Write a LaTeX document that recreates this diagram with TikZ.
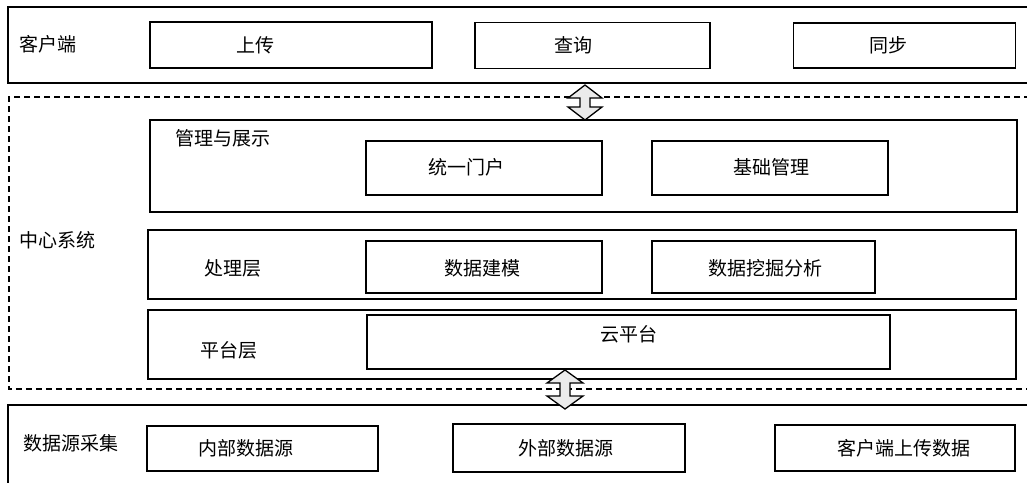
\documentclass[tikz,border=0pt]{standalone}
\usepackage{fontspec}
\newfontfamily\cjk{Noto Sans CJK SC}
\begin{document}
\begin{tikzpicture}[x=1pt,y=-1pt,
  box/.style={draw=black,line width=1.4pt,minimum width=#1,inner sep=0pt},
  lbl/.style={font=\cjk\fontsize{19pt}{22pt}\selectfont,inner sep=0pt,anchor=center},
  frame/.style={draw=black,line width=1.4pt},
  dframe/.style={draw=black,line width=1.4pt,dash pattern=on 6pt off 4pt},
  barrow/.style={draw=black,line width=1.3pt,fill=black!8,line join=miter}]
\useasboundingbox (0,0) rectangle (1027,482);
\begin{scope}
\clip (0,0) rectangle (1027,482);
% outer layers
\draw[frame] (1040,7) -- (8,7) -- (8,83) -- (1040,83);
\draw[dframe] (1040,97) -- (9,97) -- (9,389) -- (1040,389);
\draw[frame] (1040,405) -- (8,405) -- (8,490);
\end{scope}
% client row
\node[box=282pt,minimum height=46pt] (up) at (291,45) {};
\node[box=235pt,minimum height=46pt] (qry) at (592.5,45.5) {};
\node[box=222pt,minimum height=45pt] (sync) at (904.5,45.5) {};
\node[lbl] (tclient) at (48,44) {客户端};
\node[lbl] at (255,45) {上传};
\node[lbl] at (573,45) {查询};
\node[lbl] at (888,45) {同步};
% center system
\node[lbl] (tcenter) at (57,240) {中心系统};
\node[box=867pt,minimum height=92pt] (mgmt) at (583.5,166) {};
\node[lbl] at (223,138) {管理与展示};
\node[box=236pt,minimum height=54pt] (portal) at (484,168) {};
\node[box=236pt,minimum height=54pt] (base) at (770,168) {};
\node[lbl] at (466,167) {统一门户};
\node[lbl] at (771,167) {基础管理};
\node[box=868pt,minimum height=69pt] (proc) at (582,264.5) {};
\node[lbl] at (233,268) {处理层};
\node[box=236pt,minimum height=52pt] (model) at (484,267) {};
\node[box=223pt,minimum height=52pt] (mine) at (763.5,267) {};
\node[lbl] at (482,268) {数据建模};
\node[lbl] at (765,268) {数据挖掘分析};
\node[box=868pt,minimum height=69pt] (plat) at (582,344.5) {};
\node[lbl] at (229,350) {平台层};
\node[box=523pt,minimum height=54pt] (cloud) at (628.5,342) {};
\node[lbl] at (629,334) {云平台};
% data sources
\node[lbl] (tsrc) at (71,443) {数据源采集};
\node[box=231pt,minimum height=45pt] (inner) at (262.5,448.5) {};
\node[box=232pt,minimum height=48pt] (outer) at (569,448) {};
\node[box=240pt,minimum height=46pt] (cup) at (895,448) {};
\node[lbl] at (246,448) {内部数据源};
\node[lbl] at (566,448) {外部数据源};
\node[lbl] at (904,448) {客户端上传数据};
% block arrows
\draw[barrow] (585,85) -- (602,98) -- (590,98) -- (590,107) -- (602,107) -- (585,120)
  -- (568,107) -- (580,107) -- (580,98) -- (568,98) -- cycle;
\draw[barrow] (565,370) -- (583,383) -- (570,383) -- (570,396) -- (583,396) -- (565,409)
  -- (547,396) -- (560,396) -- (560,383) -- (547,383) -- cycle;
\end{tikzpicture}
\end{document}
